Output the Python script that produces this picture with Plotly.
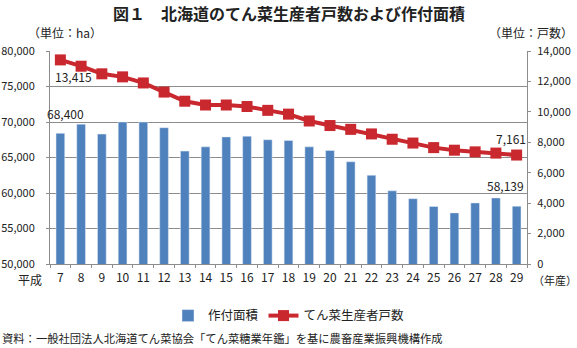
import plotly.graph_objects as go

years = ["7", "8", "9", "10", "11", "12", "13", "14", "15", "16", "17", "18",
         "19", "20", "21", "22", "23", "24", "25", "26", "27", "28", "29"]
area_ha = [68400, 69700, 68300, 70000, 70000, 69200, 65900, 66500, 67900, 68000,
           67500, 67400, 66500, 66000, 64400, 62500, 60300, 59200, 58100, 57200,
           58600, 59300, 58139]
farmers = [13415, 13000, 12500, 12300, 11900, 11300, 10700, 10450, 10450, 10350,
           10100, 9850, 9400, 9100, 8850, 8550, 8200, 7950, 7650, 7480,
           7370, 7290, 7161]

FONT = "Noto Sans CJK JP"
BLUE = "#4F81BD"
RED = "#C8282E"
GRID = "#8C8C8C"

fig = go.Figure()
fig.add_trace(go.Bar(x=years, y=area_ha, name="作付面積", marker_color=BLUE,
                     width=0.42, yaxis="y"))
fig.add_trace(go.Scatter(x=years, y=farmers, name="てん菜生産者戸数", yaxis="y2",
                         mode="lines+markers",
                         line=dict(color=RED, width=4),
                         marker=dict(symbol="square", size=11, color=RED)))

first, last = 0, len(years) - 1


def pa(text, x, y, xanchor="center", size=12):
    return dict(text=text, xref="paper", yref="paper", x=x, y=y, xanchor=xanchor,
                yanchor="middle", showarrow=False, font=dict(size=size))


ann = [
    pa("<b>図１　北海道のてん菜生産者戸数および作付面積</b>", 0.5, 1.178, size=16),
    pa("（単位：ha）", -0.05, 1.085, "left"),
    pa("（単位：戸数）", 1.10, 1.085, "right"),
    pa("平成", -0.012, -0.075, "right"),
    pa("（年産）", 1.008, -0.075, "left", size=11),
    pa("資料：一般社団法人北海道てん菜協会「てん菜糖業年鑑」を基に農畜産業振興機構作成",
       -0.1046, -0.347, "left", size=11.3),
    dict(text=f"{area_ha[first]:,}", xref="x", yref="y", x=first, y=area_ha[first],
         xshift=5, yshift=20, showarrow=False, font=dict(size=12)),
    dict(text=f"{area_ha[last]:,}", xref="x", yref="y", x=last, y=area_ha[last],
         xshift=-11, yshift=21, showarrow=False, font=dict(size=12)),
    dict(text=f"{farmers[first]:,}", xref="x", yref="y2", x=first, y=farmers[first],
         xshift=13, yshift=-17, showarrow=False, font=dict(size=12)),
    dict(text=f"{farmers[last]:,}", xref="x", yref="y2", x=last, y=farmers[last],
         xshift=-6, yshift=17, showarrow=False, font=dict(size=12)),
]

fig.update_layout(
    width=577, height=348,
    margin=dict(l=50, r=50, t=51, b=84, autoexpand=False),
    paper_bgcolor="white", plot_bgcolor="white",
    font=dict(family=FONT, size=12, color="#222"),
    showlegend=True,
    legend=dict(orientation="h", x=0.5, xanchor="center", y=-0.244, yanchor="middle",
                font=dict(size=12.5), tracegroupgap=0),
    annotations=ann,
    xaxis=dict(type="category", range=[-0.5, len(years) - 0.5],
               showline=True, linecolor=GRID, ticks="outside",
               tickson="boundaries", ticklen=3, tickcolor=GRID, showgrid=False,
               tickangle=0, tickfont=dict(size=12), ticklabelstandoff=3,
               automargin=False),
    yaxis=dict(range=[50000, 80000], dtick=5000, tickformat=",", showgrid=True,
               gridcolor=GRID, gridwidth=1, showline=True, linecolor=GRID,
               ticks="outside", ticklen=3, tickcolor=GRID, zeroline=False,
               tickfont=dict(size=11), ticklabelstandoff=9, automargin=False),
    yaxis2=dict(range=[0, 14000], dtick=2000, tickformat=",", overlaying="y",
                side="right", showgrid=False, showline=True, linecolor=GRID,
                ticks="outside", ticklen=3, tickcolor=GRID, zeroline=False,
                tickfont=dict(size=11), ticklabelstandoff=4, automargin=False),
)

fig.write_html("out.html")
